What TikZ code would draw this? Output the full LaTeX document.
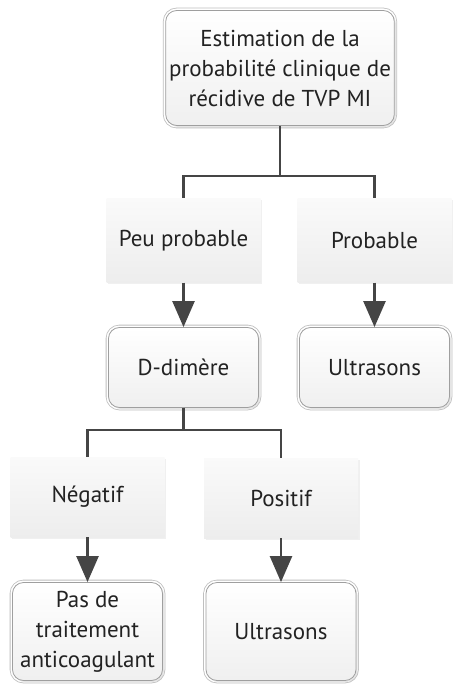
\documentclass[tikz,border=0pt]{standalone}
\usepackage{fontspec}
\setmainfont{PT Sans}
\usepackage{tikz}
\usetikzlibrary{positioning, arrows.meta, shadows}
\definecolor{linegray}{HTML}{454545}
\definecolor{textgray}{HTML}{222222}
\tikzset{
    every node/.style={text=textgray, font=\fontsize{23}{30}\selectfont, align=center}, % text of all boxes
    step box/.style={rounded corners=11pt, minimum width=150pt, minimum height=80pt,
        top color=white, bottom color=gray!12, draw=gray!75, line width=0.8pt,
        preaction={draw=gray!50, line width=5.6pt},
        preaction={draw=white, line width=4pt},
        drop shadow={opacity=0.2, shadow xshift=1.5pt, shadow yshift=-1.5pt}}, % rounded double boxes
    answer box/.style={minimum width=154pt, minimum height=84pt,
        top color=gray!4, bottom color=gray!14,
        drop shadow={opacity=0.12, shadow xshift=1.5pt, shadow yshift=-1.5pt}}, % grey answer boxes
    link/.style={draw=linegray, line width=2.4pt}, % branch lines
    arrow/.style={link, -{Triangle[width=22pt, length=26pt]}}, % arrows into boxes
    node distance=127pt, % vertical distance between answer and box
}
\begin{document}
\begin{tikzpicture}[x=1pt, y=-1pt]
    \useasboundingbox (0,0) rectangle (454,684);
    \node[step box, minimum width=226pt, minimum height=115pt] (estim) at (280,68)
        {Estimation de la\\probabilité clinique de\\récidive de TVP MI};
    \node[answer box] (peu) at (183.5,240.5) {Peu probable};
    \node[answer box] (prob) at (374.5,240.5) {Probable};
    \node[step box, below of=peu] (ddim) {D-dimère};
    \node[step box, below of=prob] (ultra1) {Ultrasons};
    \node[answer box, minimum height=80pt] (neg) at (87.5,497) {Négatif};
    \node[answer box, minimum height=80pt] (pos) at (281,498) {Positif};
    \node[step box, minimum height=98pt, below of=neg, node distance=134.5pt] (pasde)
        {Pas de\\traitement\\anticoagulant};
    \node[step box, minimum height=98pt, below of=pos, node distance=133.5pt] (ultra2) {Ultrasons};
    \draw[link] (estim.south) -- ++(0,50) -| (peu.north);
    \draw[link] (estim.south) -- ++(0,50) -| (prob.north);
    \draw[arrow] (peu.south) -- (ddim.north);
    \draw[arrow] (prob.south) -- (ultra1.north);
    \draw[link] (ddim.south) -- ++(0,22) -| (neg.north);
    \draw[link] (ddim.south) -- ++(0,22) -| (pos.north);
    \draw[arrow] (neg.south) -- (pasde.north);
    \draw[arrow] (pos.south) -- (ultra2.north);
\end{tikzpicture}
\end{document}
